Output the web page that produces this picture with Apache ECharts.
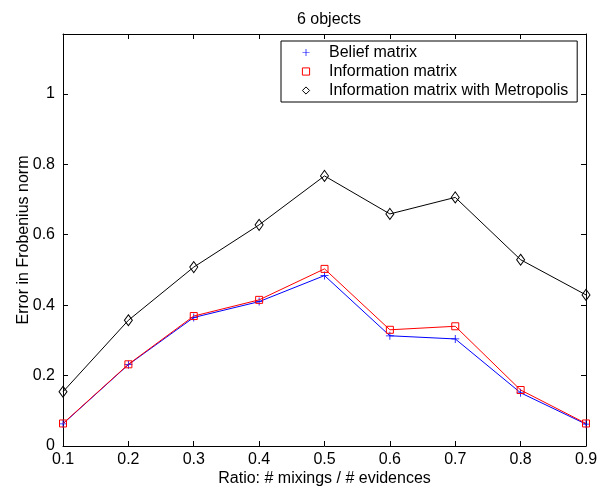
<!DOCTYPE html>
<html>
<head>
<meta charset="utf-8">
<script src="https://cdn.jsdelivr.net/npm/echarts@6/dist/echarts.min.js"></script>
<style>
html,body{margin:0;padding:0;background:#fff;}
#chart{width:608px;height:487px;}
</style>
</head>
<body>
<div id="chart"></div>
<script>
var ratios = [0.1, 0.2, 0.3, 0.4, 0.5, 0.6, 0.7, 0.8, 0.9];
var beliefMatrix = [0.063, 0.231, 0.365, 0.410, 0.484, 0.313, 0.304, 0.151, 0.062];
var informationMatrix = [0.064, 0.232, 0.369, 0.415, 0.503, 0.330, 0.340, 0.159, 0.064];
var informationMetropolis = [0.154, 0.357, 0.508, 0.628, 0.767, 0.659, 0.706, 0.529, 0.429];
var seriesNames = ['Belief matrix', 'Information matrix', 'Information matrix with Metropolis'];
var titleText = '6 objects';
var xName = 'Ratio: # mixings / # evidences';
var yName = 'Error in Frobenius norm';

function pairs(xs, ys) { return xs.map(function (x, i) { return [x, ys[i]]; }); }

var FONT = 'Liberation Sans, Arial, Helvetica, sans-serif';
var plusPath = 'path://M4.5,0H5.5V4.5H10V5.5H5.5V10H4.5V5.5H0V4.5H4.5Z';

var chart = echarts.init(document.getElementById('chart'), null, {renderer: 'canvas'});
var axisLine = {show: true, onZero: false, lineStyle: {color: '#000', width: 1}};
var tick = {show: true, inside: true, length: 5, lineStyle: {color: '#000', width: 1}};
var txt = {color: '#000', fontFamily: FONT, fontSize: 16};

chart.setOption({
  animation: false,
  backgroundColor: '#fff',
  title: {
    text: titleText, left: 324, textAlign: 'center', top: 7,
    textStyle: {color: '#000', fontFamily: FONT, fontSize: 16, fontWeight: 'normal'}
  },
  grid: {left: 63, right: 22, top: 34, bottom: 41, containLabel: false, outerBoundsMode: 'none'},
  legend: {
    orient: 'vertical', left: 281, top: 41,
    backgroundColor: '#fff', borderColor: '#000', borderWidth: 1,
    padding: [2, 9, 2, 6],
    itemWidth: 36, itemHeight: 9, itemGap: 0,
    lineStyle: {opacity: 0},
    textStyle: {color: '#000', fontFamily: FONT, fontSize: 16, lineHeight: 19},
    data: [
      {name: seriesNames[0], itemStyle: {color: '#0000ff', borderWidth: 0}},
      {name: seriesNames[1], itemStyle: {color: 'rgba(255,255,255,0)', borderColor: '#ff0000', borderWidth: 1}},
      {name: seriesNames[2], itemStyle: {color: 'rgba(255,255,255,0)', borderColor: '#000', borderWidth: 1}}
    ]
  },
  xAxis: [{
    type: 'value', position: 'bottom', min: 0.1, max: 0.9, interval: 0.1,
    axisLine: axisLine, axisTick: tick, splitLine: {show: false},
    axisLabel: Object.assign({margin: 6, formatter: function (v) { return v.toFixed(1); }}, txt),
    name: xName, nameLocation: 'middle', nameGap: 25, nameMoveOverlap: false, nameTextStyle: txt
  }, {
    type: 'value', position: 'top', min: 0.1, max: 0.9, interval: 0.1,
    axisLine: axisLine, axisTick: tick, splitLine: {show: false}, axisLabel: {show: false}
  }],
  yAxis: [{
    type: 'value', position: 'left', min: 0, max: 1.17, interval: 0.2,
    axisLine: axisLine, axisTick: tick, splitLine: {show: false},
    axisLabel: Object.assign({margin: 8, formatter: function (v) {
      var k = v / 0.2;
      if (Math.abs(k - Math.round(k)) > 1e-6) return '';
      return String(parseFloat(v.toFixed(1)));
    }}, txt),
    name: yName, nameLocation: 'middle', nameGap: 31, nameMoveOverlap: false, nameTextStyle: txt
  }, {
    type: 'value', position: 'right', min: 0, max: 1.17, interval: 0.2,
    axisLine: axisLine, axisTick: tick, splitLine: {show: false}, axisLabel: {show: false}
  }],
  series: [{
    name: seriesNames[0], type: 'line', data: pairs(ratios, beliefMatrix),
    symbol: plusPath, symbolSize: 8, z: 2,
    lineStyle: {color: '#0000ff', width: 1},
    itemStyle: {color: '#0000ff'}
  }, {
    name: seriesNames[1], type: 'line', data: pairs(ratios, informationMatrix),
    symbol: 'rect', symbolSize: 7, z: 3,
    lineStyle: {color: '#ff0000', width: 1},
    itemStyle: {color: 'rgba(255,255,255,0)', borderColor: '#ff0000', borderWidth: 1}
  }, {
    name: seriesNames[2], type: 'line', data: pairs(ratios, informationMetropolis),
    symbol: 'diamond', symbolSize: [8, 11], z: 4,
    lineStyle: {color: '#000', width: 1},
    itemStyle: {color: 'rgba(255,255,255,0)', borderColor: '#000', borderWidth: 1}
  }]
});
</script>
</body>
</html>
